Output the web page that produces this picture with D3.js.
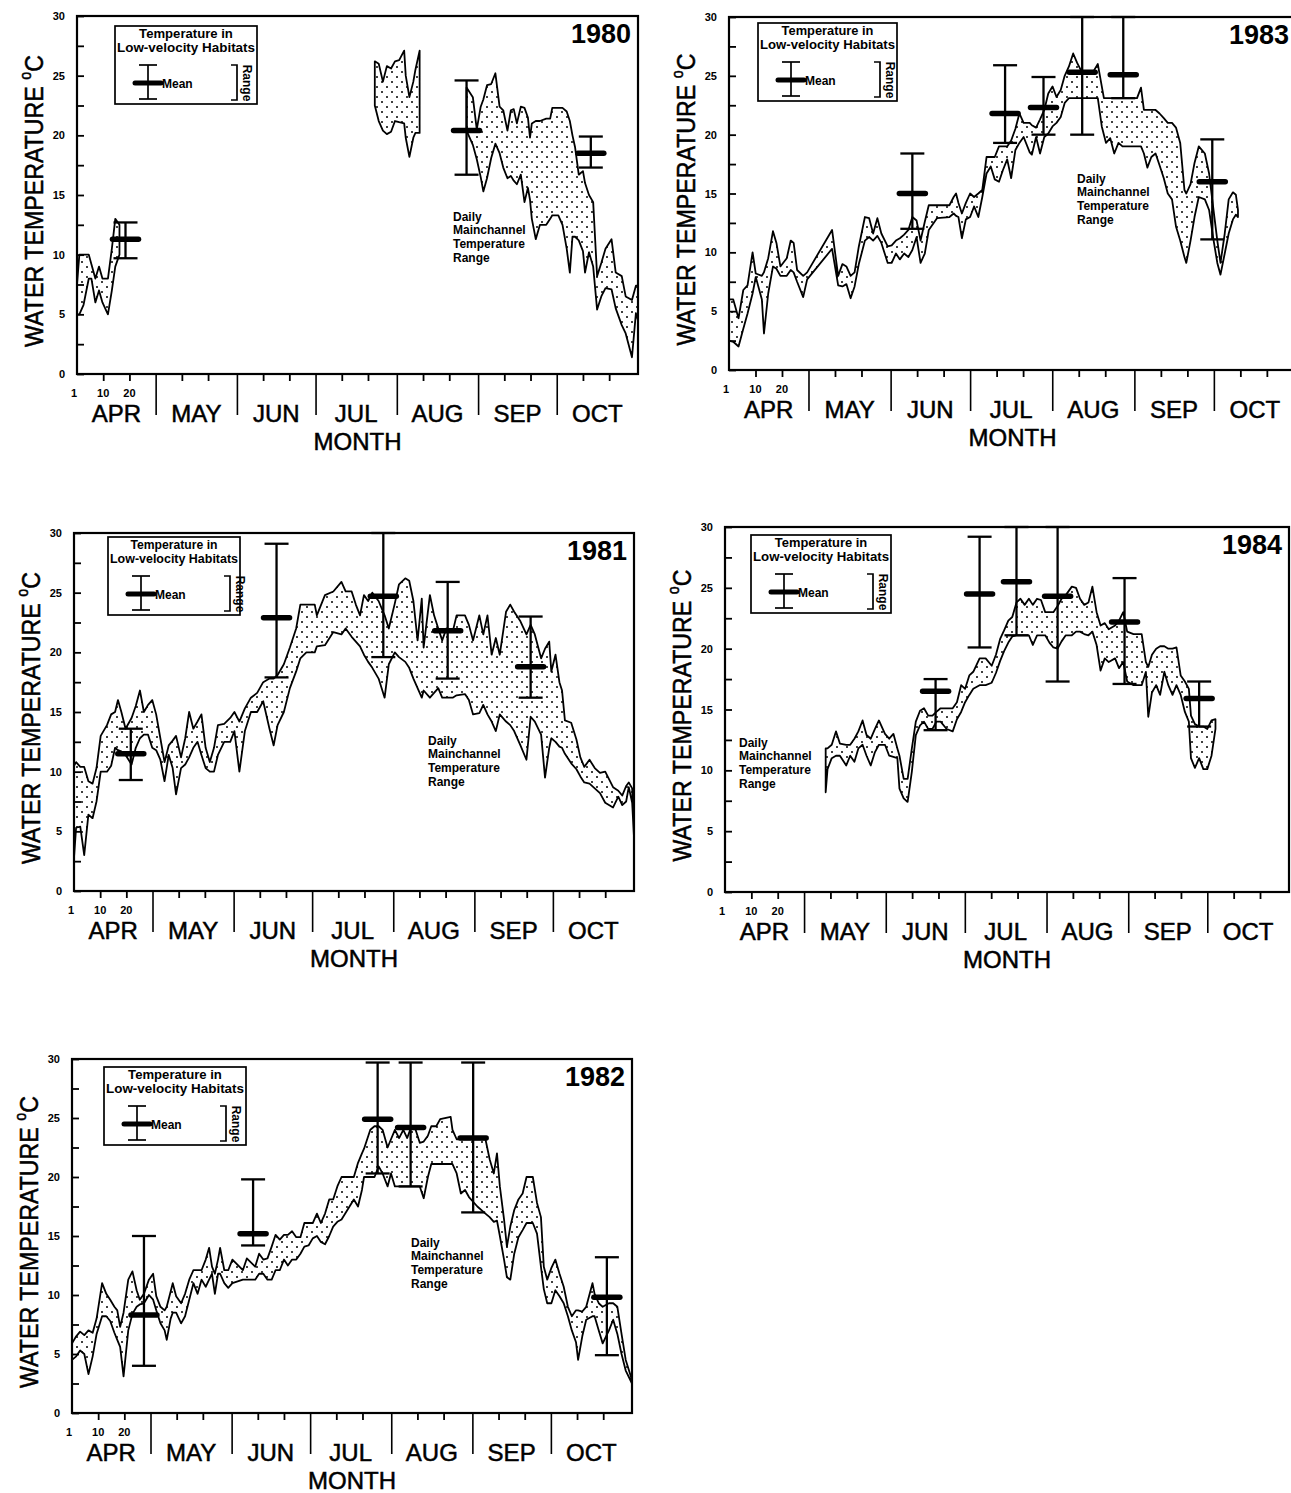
<!DOCTYPE html>
<html>
<head>
<meta charset="utf-8">
<script src="https://cdn.jsdelivr.net/npm/d3@7"></script>
<style>
  body { margin: 0; background: #fff; }
  svg { display: block; }
</style>
</head>
<body>
<svg id="chart" width="1291" height="1493"></svg>
<script>
// ---- Season axis: day index counted from April 1 ----
const monthNames = ["APR", "MAY", "JUN", "JUL", "AUG", "SEP", "OCT"];
const monthStarts = [0, 30, 61, 91, 122, 153, 183];
const seasonLength = 214;
const dayTickLabels = ["1", "10", "20"];
const tempTicks = [0, 5, 10, 15, 20, 25, 30];

// ---- Daily main-channel temperature range: [day, max, min], one list per continuous record ----
const range1980 = [
  [[0,7.5,5.0],[0.9,10.0,5.0],[2.5,10.0,5.8],[4.5,10.0,8.0],[5.5,9.2,8.0],[7.0,8.0,6.0],[8.4,9.0,7.0],[9.7,8.0,6.0],[11.8,8.0,5.0],[13.3,10.5,7.0],[14.6,13.0,9.0],[16.2,12.5,10.0]],
  [[113.6,26.2,22.5],[115.1,26.0,21.2],[116.7,24.5,20.4],[118.2,25.8,20.1],[119.8,25.6,20.3],[121.3,26.2,21.2],[122.9,26.3,21.1],[124.8,27.1,21.0],[125.4,25.0,19.8],[126.8,23.2,18.2],[128.3,24.5,19.8],[129.1,25.5,20.2],[130.7,27.1,20.2]],
  [[148.6,24.0,20.4],[151.0,23.2,19.2],[152.5,20.5,18.0],[154.0,22.4,16.5],[155.0,23.0,15.3],[156.4,24.2,16.4],[158.0,24.3,18.1],[159.6,25.2,19.3],[161.2,22.4,18.5],[162.6,22.1,17.3],[164.2,20.4,16.4],[165.5,22.1,16.6],[166.6,22.2,16.2],[167.8,21.0,15.9],[169.3,22.4,16.7],[170.7,22.3,14.4],[172.0,21.5,15.6],[172.8,19.8,14.6],[173.5,21.0,13.0],[175.0,21.2,11.3],[176.6,21.2,12.5],[179.0,21.4,12.5],[180.5,21.4,13.0],[181.3,22.3,13.3],[183.6,22.3,13.3],[185.2,22.3,12.5],[186.8,22.0,10.5],[188.0,21.2,8.5],[189.0,20.0,11.5],[190.0,19.0,11.5],[191.4,16.7,11.2],[193.0,17.0,10.3],[193.8,16.0,8.5],[195.3,15.0,10.2],[196.9,14.4,9.0],[198.4,8.2,5.4],[200.0,9.3,6.5],[201.6,10.5,7.2],[203.9,11.3,7.1],[205.5,8.5,5.5],[207.8,8.2,4.1],[209.3,6.5,3.4],[211.7,6.2,1.4],[213.2,7.4,5.1],[214,7.4,4.5]]
];
const range1983 = [
  [[0,6.0,2.5],[1.6,6.0,2.4],[3.6,4.4,2.0],[5.4,6.8,3.5],[7.0,7.2,4.8],[8.9,10.0,6.5],[10.1,8.2,7.9],[12.4,8.0,6.0],[13.2,8.3,3.1],[14.8,9.5,6.5],[16.6,11.8,8.8],[17.9,10.8,8.6],[19.4,8.8,8.0],[21.8,9.5,8.0],[23.3,11.0,8.5],[24.4,10.8,8.3],[25.7,8.5,7.5],[28.0,8.0,6.2],[29.5,8.3,7.7],[38.9,11.9,10.3],[41.2,8.0,7.2],[42.8,9.0,7.1],[44.3,8.8,7.3],[45.9,8.0,6.1],[47.4,8.3,7.1],[49.0,10.5,9.0],[51.3,13.0,11.0],[52.9,12.9,11.3],[54.4,11.6,11.0],[56.0,12.9,11.4],[57.5,11.6,10.8],[59.9,10.5,9.1],[61.4,10.6,9.1],[63.0,11.0,9.9],[64.5,11.2,9.4],[66.1,11.5,9.9],[67.7,11.9,9.6],[69.2,13.0,10.2],[70.8,12.7,11.3],[72.3,11.0,9.1],[73.9,12.6,9.9],[75.4,14.0,11.9],[78.5,14.0,12.9],[83.2,14.0,13.0],[84.8,14.7,13.3],[85.7,15.0,13.1],[86.6,14.2,13.0],[87.9,13.3,11.2],[89.4,14.2,12.8],[91.0,15.0,13.0],[92.5,14.7,13.9],[94.1,15.0,13.0],[95.6,15.3,14.7],[97.2,18.1,16.7],[98.8,18.1,17.3],[100.3,18.1,16.2],[101.9,19.0,16.0],[103.4,19.0,17.0],[105.0,19.0,17.9],[106.5,19.5,16.3],[108.1,20.5,18.7],[109.6,21.8,19.3],[111.2,21.0,19.8],[113.5,21.0,18.5],[114.3,20.8,18.3],[115.9,20.6,19.8],[117.4,21.3,18.4],[119.0,22.1,19.8],[120.5,23.5,20.1],[122.1,24.1,20.7],[123.6,23.2,21.0],[125.2,23.8,21.5],[126.7,25.0,22.7],[128.3,25.8,23.1],[129.9,26.9,23.1],[131.4,26.1,23.1],[133.0,25.4,23.1],[137.6,25.4,23.1],[139.2,26.0,23.1],[140.7,24.1,20.7],[141.5,23.1,20.0],[142.3,23.1,19.3],[143.9,23.1,19.7],[145.4,23.1,18.4],[147.0,23.1,19.3],[148.5,23.1,19.0],[154.0,23.1,19.0],[155.5,24.0,19.0],[156.6,22.1,18.4],[157.9,22.1,17.2],[159.4,22.1,18.1],[161.0,22.1,18.4],[162.5,21.8,17.4],[164.1,21.4,16.3],[165.6,21.0,15.0],[167.2,21.0,14.5],[168.7,20.6,12.2],[170.3,19.3,11.0],[171.9,15.3,9.6],[172.6,15.0,9.1],[174.2,15.8,11.0],[175.7,17.6,13.0],[177.3,19.0,14.7],[179.6,18.4,14.5],[181.2,16.7,13.6],[182.7,13.9,11.3],[184.3,11.0,9.1],[185.5,9.1,8.1],[187.1,11.6,9.9],[188.6,14.5,11.6],[190.2,15.1,12.8],[191.3,14.9,13.2],[192.1,13.6,13.0]]
];
const range1981 = [
  [[0,10.5,2.8],[0.8,10.8,5.3],[2.4,10.4,5.4],[3.9,10.4,3.0],[5.5,9.2,6.4],[7.1,9.0,6.1],[8.6,10.3,7.5],[10.2,13.0,10.0],[12.6,13.9,10.0],[14.2,14.8,10.5],[15.7,15.0,12.0],[16.8,16.0,11.8],[18.1,15.0,11.7],[19.7,13.6,11.4],[22.0,14.5,10.6],[23.6,15.5,12.0],[25.2,16.8,12.8],[26.7,15.0,13.1],[28.3,15.6,13.1],[29.9,16.0,12.0],[31.4,14.8,11.8],[33.0,12.8,11.0],[34.6,10.8,9.2],[36.2,12.2,11.4],[37.7,12.6,10.3],[39.0,13.0,8.1],[40.9,11.2,10.3],[42.5,12.8,10.6],[44.0,15.0,11.2],[45.6,13.6,12.0],[47.2,14.2,12.5],[48.7,14.8,11.4],[50.3,12.0,10.3],[51.9,10.8,10.0],[53.5,12.0,10.0],[55.0,13.9,11.4],[57.4,14.0,12.5],[59.7,14.5,12.5],[61.3,15.0,13.4],[63.2,14.2,10.0],[65.3,15.3,13.4],[67.6,16.2,15.0],[70.0,16.6,15.0],[72.3,17.5,15.9],[74.7,17.8,13.6],[76.3,17.8,12.2],[77.8,18.1,13.9],[80.2,19.0,15.0],[82.5,20.4,17.0],[84.9,22.0,18.4],[86.5,24.0,19.5],[88.8,24.0,20.0],[92.0,24.0,20.0],[92.8,23.1,20.5],[95.9,24.8,20.6],[99.1,25.1,21.7],[102.2,25.9,21.5],[103.8,25.1,22.0],[106.1,25.1,21.3],[107.7,24.0,20.9],[109.3,23.1,20.5],[110.8,24.8,19.8],[112.4,24.3,19.2],[114.0,25.0,18.7],[116.4,24.3,17.8],[118.7,23.1,16.2],[120.3,22.0,19.0],[122.6,24.1,20.0],[124.2,25.7,19.6],[126.6,26.2,19.2],[128.1,26.0,18.7],[129.7,24.3,17.8],[131.3,21.0,17.0],[132.9,24.5,16.2],[133.6,20.4,16.8],[136.0,24.8,16.2],[137.6,23.1,16.6],[139.2,22.0,17.0],[140.7,21.0,16.2],[142.3,22.0,16.2],[144.7,21.7,16.2],[146.2,23.1,16.4],[149.4,23.1,16.5],[150.9,22.3,16.0],[152.5,21.0,14.8],[154.9,23.1,14.9],[156.4,21.5,15.6],[158.0,23.1,14.8],[159.6,19.8,14.2],[161.2,21.2,13.4],[162.7,19.8,14.8],[165.1,23.4,14.2],[166.7,24.0,13.9],[168.2,23.4,13.4],[170.6,22.6,12.2],[172.9,21.5,11.0],[174.5,22.3,14.6],[176.1,21.5,14.2],[178.5,19.5,13.1],[180.0,20.3,9.5],[181.6,20.9,12.0],[182.4,18.4,12.8],[184.0,19.8,12.5],[185.5,17.5,12.1],[186.5,16.8,12.0],[187.6,14.3,11.5],[190.0,14.1,10.7],[192.0,12.7,10.2],[193.5,11.2,9.6],[195.0,10.4,9.1],[197.0,11.0,9.0],[199.0,10.3,8.6],[201.0,9.9,8.2],[203.0,10.0,7.4],[206.0,8.7,7.0],[208.0,8.4,7.9],[209.5,8.0,7.2],[211.0,8.8,7.5],[212.0,9.1,8.7],[213.3,8.6,7.4],[214,5.5,4.5]]
];
const range1984 = [
  [[38.2,11.8,8.2],[38.9,11.8,10.1],[40.5,12.1,11.0],[42.1,13.2,11.2],[43.6,12.2,11.2],[46.0,12.1,10.4],[47.5,12.1,11.2],[49.1,12.6,10.7],[50.6,13.2,11.8],[52.2,14.1,12.1],[53.7,12.9,11.2],[55.3,12.6,10.4],[56.9,13.4,11.5],[58.4,14.1,12.1],[60.7,13.0,12.1],[62.3,12.6,11.2],[63.9,13.0,11.1],[65.4,11.8,11.0],[66.2,11.2,8.5],[67.8,9.3,7.7],[69.3,9.3,7.4],[70.9,11.8,9.9],[72.4,14.0,12.9],[74.0,14.9,13.7],[75.5,15.1,14.0],[77.1,14.5,13.4],[78.7,14.5,13.4],[80.2,14.8,14.0],[81.8,15.1,14.0],[84.1,15.1,13.4],[86.4,15.1,13.2],[88.0,15.6,14.2],[89.6,17.0,14.8],[91.1,16.7,15.6],[92.7,17.8,16.2],[94.2,18.1,16.7],[96.6,19.2,17.0],[98.9,19.2,17.0],[101.2,18.6,17.2],[102.8,19.5,18.0],[104.4,20.8,19.0],[105.9,21.5,19.8],[107.5,22.3,20.5],[109.0,22.6,21.0],[110.6,23.8,21.1],[112.1,24.1,21.1],[113.7,23.6,21.1],[115.3,24.1,21.1],[116.8,23.6,20.3],[118.4,24.1,21.1],[119.9,24.0,21.1],[121.5,23.0,21.1],[123.1,23.0,20.5],[124.6,23.0,20.1],[126.2,23.5,20.0],[127.7,24.1,20.6],[129.3,24.4,21.1],[131.6,25.1,21.1],[133.2,25.0,21.4],[134.7,24.1,21.4],[136.3,23.6,21.2],[137.9,23.8,21.1],[139.4,25.1,21.4],[141.0,23.0,20.3],[142.5,21.9,18.2],[144.1,22.1,19.2],[145.6,21.6,18.9],[148.0,21.9,19.2],[149.5,22.3,18.4],[151.1,23.0,18.9],[152.6,21.4,17.3],[155.0,21.2,17.0],[158.1,21.2,17.0],[159.7,18.9,18.1],[160.6,18.5,14.4],[162.0,19.5,16.4],[163.6,20.0,17.0],[165.1,20.2,16.2],[166.7,20.2,18.1],[168.2,20.0,17.0],[169.8,20.0,16.2],[171.3,20.1,17.0],[172.9,17.8,16.2],[174.5,17.3,14.8],[176.0,16.7,14.0],[176.8,14.5,11.0],[178.3,13.8,10.2],[179.9,13.6,11.0],[181.5,13.6,10.1],[183.0,13.4,10.1],[184.6,14.1,11.2],[186.1,14.2,13.4]]
];
const range1982 = [
  [[0,5.9,4.5],[1.6,6.5,4.8],[3.1,6.9,5.3],[4.7,6.6,5.0],[6.3,7.0,3.3],[7.9,6.8,4.8],[9.4,8.0,6.7],[11.5,11.0,8.2],[13.1,10.1,8.2],[14.6,9.6,7.8],[16.2,9.0,6.8],[17.3,8.7,6.2],[18.4,7.3,5.6],[19.7,8.5,3.1],[21.5,11.3,7.0],[23.1,12.0,8.4],[24.7,10.4,9.0],[25.9,9.6,9.2],[27.5,10.1,9.3],[29.4,11.3,10.0],[31.0,11.8,9.6],[32.2,9.9,8.7],[33.8,9.0,7.6],[35.4,8.7,7.0],[36.2,9.0,6.2],[37.7,10.3,8.0],[38.5,11.0,8.5],[39.8,9.9,8.5],[41.7,9.3,7.6],[43.2,10.1,8.2],[44.8,11.3,9.6],[46.4,12.1,11.0],[48.0,12.1,10.1],[49.5,12.1,11.3],[51.1,13.0,10.7],[52.4,14.0,11.3],[53.5,12.4,11.8],[54.6,11.8,10.1],[55.8,13.0,11.8],[56.6,14.0,11.8],[58.2,12.1,11.0],[59.7,12.1,10.6],[61.3,13.0,11.0],[65.3,12.1,11.3],[66.8,13.1,11.3],[70.0,12.4,11.3],[71.5,13.5,11.8],[73.1,13.0,11.8],[74.7,13.1,11.3],[76.3,14.1,11.3],[77.8,15.1,12.1],[79.4,14.7,12.1],[81.0,15.1,13.0],[82.5,15.1,12.5],[84.1,15.4,13.0],[85.7,14.9,13.0],[87.3,14.9,13.5],[88.8,16.1,14.1],[90.4,16.1,14.2],[92.0,16.1,14.8],[93.6,16.9,15.0],[95.1,16.1,14.5],[96.7,16.9,14.3],[98.3,18.1,15.0],[99.8,18.1,15.8],[101.4,19.2,16.2],[103.0,20.0,16.4],[107.7,20.0,18.1],[109.3,21.2,17.5],[110.8,22.0,18.9],[111.6,22.4,20.0],[114.0,24.0,20.0],[115.6,24.3,20.0],[117.2,24.3,20.9],[118.7,24.0,20.3],[120.6,22.5,19.2],[121.9,23.2,20.3],[123.4,24.0,19.2],[125.0,23.3,19.2],[126.6,24.0,19.2],[128.1,23.3,19.2],[129.7,24.3,19.2],[131.3,24.0,19.2],[132.9,22.9,19.2],[134.4,23.0,18.2],[136.0,23.5,20.0],[137.3,24.3,21.1],[139.2,24.3,21.1],[140.7,24.9,21.1],[144.7,25.1,21.1],[145.4,24.0,21.1],[147.0,23.2,20.3],[148.6,23.2,18.6],[150.2,23.2,18.9],[151.7,23.2,18.3],[154.9,23.2,17.5],[158.0,23.2,16.9],[159.6,21.5,16.6],[161.2,20.3,16.2],[162.4,22.0,16.3],[163.5,19.2,15.0],[165.1,16.4,13.0],[166.2,14.1,11.5],[167.5,15.8,11.3],[169.0,17.2,13.5],[170.6,18.1,14.9],[172.2,18.6,15.5],[173.7,20.0,16.1],[176.1,20.0,16.1],[177.7,17.8,15.2],[179.2,16.6,12.4],[180.3,12.4,10.5],[181.6,11.3,9.3],[183.2,12.3,9.3],[184.7,13.0,10.4],[186.3,11.8,9.9],[187.9,10.7,9.3],[189.5,9.0,8.2],[191.0,8.2,7.0],[192.6,8.7,6.0],[193.4,8.7,4.5],[195.0,8.6,6.5],[196.5,9.0,7.9],[198.9,11.0,8.2],[199.7,10.1,8.2],[201.3,9.3,7.0],[202.8,9.0,5.9],[205.2,9.3,7.0],[206.8,9.3,7.9],[208.4,9.0,6.7],[210.0,6.7,5.0],[211.6,4.5,3.6],[214,2.8,2.5]]
];

// ---- Low-velocity habitat samples: [day, mean, low, high] ----
const habitat1980 = [[18.5,11.3,9.7,12.7],[148.6,20.4,16.7,24.6],[196.0,18.5,17.3,19.9]];
const habitat1983 = [[69.2,15.0,12.0,18.4],[104.2,21.8,19.3,25.9],[118.7,22.3,20.0,24.9],[133.3,25.3,20.0,30.0],[148.8,25.1,23.1,30.0],[182.4,16.0,11.1,19.6]];
const habitat1981 = [[21.7,11.5,9.3,13.6],[77.4,22.9,17.9,29.1],[118.2,24.7,19.6,30.0],[142.8,21.8,17.8,25.9],[174.5,18.8,16.2,23.0]];
const habitat1984 = [[79.9,16.5,13.3,17.5],[96.6,24.5,20.1,29.2],[110.6,25.5,21.1,30.0],[126.2,24.3,17.3,30.0],[151.6,22.2,17.1,25.8],[179.9,15.9,13.6,17.3]];
const habitat1982 = [[27.5,8.3,4.0,15.0],[69.2,15.2,14.2,19.8],[116.8,24.9,20.3,29.7],[129.4,24.2,19.2,29.7],[153.3,23.3,17.0,29.7],[204.4,9.8,4.9,13.2]];

// ---- Panel placement on the page ----
const panels = [
  { year: "1980", range: range1980, habitat: habitat1980, frame: { l: 77, r: 638, t: 16, b: 374 },   legend: { x: 115, y: 26, w: 142 },   note: { x: 453, y: 216 } },
  { year: "1983", range: range1983, habitat: habitat1983, frame: { l: 729, r: 1296, t: 17, b: 370 }, legend: { x: 758, y: 23, w: 139 },   note: { x: 1077, y: 178 } },
  { year: "1981", range: range1981, habitat: habitat1981, frame: { l: 74, r: 634, t: 533, b: 891 },  legend: { x: 108, y: 537, w: 132 },  note: { x: 428, y: 740 } },
  { year: "1984", range: range1984, habitat: habitat1984, frame: { l: 725, r: 1289, t: 527, b: 892 }, legend: { x: 751, y: 535, w: 140 }, note: { x: 739, y: 742 } },
  { year: "1982", range: range1982, habitat: habitat1982, frame: { l: 72, r: 632, t: 1059, b: 1413 }, legend: { x: 104, y: 1067, w: 142 }, note: { x: 411, y: 1242 } }
];

const FONT = "'Liberation Sans', Arial, Helvetica, sans-serif";
const svg = d3.select("#chart");

// stipple used for the daily range band
const defs = svg.append("defs");
const dots = defs.append("pattern").attr("id", "dots")
  .attr("patternUnits", "userSpaceOnUse").attr("width", 10).attr("height", 10);
dots.append("rect").attr("width", 10).attr("height", 10).attr("fill", "#fff");
dots.append("circle").attr("cx", 2).attr("cy", 2).attr("r", 1).attr("fill", "#000");
dots.append("circle").attr("cx", 7).attr("cy", 7).attr("r", 1).attr("fill", "#000");

function addText(g, x, y, str, size, opts = {}) {
  const t = g.append("text")
    .attr("x", x).attr("y", y)
    .attr("font-family", FONT)
    .attr("font-size", size)
    .attr("font-weight", opts.bold ? "bold" : "normal")
    .attr("text-anchor", opts.anchor || "start")
    .attr("fill", "#000")
    .text(str);
  if (opts.heavy) t.attr("stroke", "#000").attr("stroke-width", opts.heavy);
  if (opts.len) t.attr("textLength", opts.len).attr("lengthAdjust", "spacingAndGlyphs");
  if (opts.transform) t.attr("transform", opts.transform);
  return t;
}

function drawLegend(g, lg) {
  const { x: lx, y: ly, w } = lg;
  const h = 78;
  g.append("rect").attr("x", lx).attr("y", ly).attr("width", w).attr("height", h)
    .attr("fill", "#fff").attr("stroke", "#000").attr("stroke-width", 1.7);
  addText(g, lx + w / 2, ly + 12, "Temperature in", 12, { bold: true, anchor: "middle", len: w * 0.66 });
  addText(g, lx + w / 2, ly + 26, "Low-velocity Habitats", 12, { bold: true, anchor: "middle", len: w - 4 });
  const gx = lx + 33, top = ly + 39, bot = ly + 73, mid = ly + 57;
  g.append("line").attr("x1", gx).attr("x2", gx).attr("y1", top).attr("y2", bot).attr("stroke", "#000").attr("stroke-width", 1.7);
  [top, bot].forEach(v => g.append("line").attr("x1", gx - 9).attr("x2", gx + 9).attr("y1", v).attr("y2", v).attr("stroke", "#000").attr("stroke-width", 1.7));
  g.append("line").attr("x1", gx - 13).attr("x2", gx + 13).attr("y1", mid).attr("y2", mid)
    .attr("stroke", "#000").attr("stroke-width", 5).attr("stroke-linecap", "round");
  addText(g, lx + 47, mid + 4.5, "Mean", 12, { bold: true });
  const bx = lx + 116;
  g.append("path").attr("d", `M${bx},${top} H${bx + 6} V${bot + 1} H${bx}`)
    .attr("fill", "none").attr("stroke", "#000").attr("stroke-width", 1.7);
  addText(g, bx + 12, mid, "Range", 12, { bold: true, anchor: "middle", transform: `rotate(90,${bx + 12},${mid})` });
}

function drawPanel(p) {
  const { l, r, t, b } = p.frame;
  const x = d3.scaleLinear().domain([0, seasonLength]).range([l, r]);
  const y = d3.scaleLinear().domain([0, 30]).range([b, t]);
  const g = svg.append("g");

  // daily range bands
  const band = d3.area().x(d => x(d[0])).y0(d => y(d[2])).y1(d => y(d[1]));
  p.range.forEach(seg => {
    g.append("path").attr("d", band(seg))
      .attr("fill", "url(#dots)").attr("stroke", "#000")
      .attr("stroke-width", 1.8).attr("stroke-linejoin", "round");
  });

  // habitat samples: range whisker with a heavy mean bar
  p.habitat.forEach(([d, mean, lo, hi]) => {
    const cx = x(d);
    g.append("line").attr("x1", cx).attr("x2", cx).attr("y1", y(lo)).attr("y2", y(hi))
      .attr("stroke", "#000").attr("stroke-width", 2.3);
    [lo, hi].forEach(v => g.append("line").attr("x1", cx - 12).attr("x2", cx + 12)
      .attr("y1", y(v)).attr("y2", y(v)).attr("stroke", "#000").attr("stroke-width", 2.3));
    g.append("line").attr("x1", cx - 13).attr("x2", cx + 13).attr("y1", y(mean)).attr("y2", y(mean))
      .attr("stroke", "#000").attr("stroke-width", 5.5).attr("stroke-linecap", "round");
  });

  // plot frame
  g.append("rect").attr("x", l).attr("y", t).attr("width", r - l).attr("height", b - t)
    .attr("fill", "none").attr("stroke", "#000").attr("stroke-width", 2.2);

  // temperature axis
  const yAxis = d3.axisLeft(y).tickValues(d3.range(0, 30.01, 2.5)).tickSize(-7).tickPadding(12)
    .tickFormat(v => tempTicks.includes(v) ? String(v) : "");
  const ya = g.append("g").attr("transform", `translate(${l},0)`).call(yAxis);
  ya.select(".domain").remove();
  ya.selectAll("line").attr("stroke", "#000").attr("stroke-width", 1.8);
  ya.selectAll("text").attr("font-family", FONT).attr("font-weight", "bold").attr("font-size", 11).attr("fill", "#000");

  // day ticks (10th and 20th of each month) and month separators
  const minor = [];
  monthStarts.forEach(s => minor.push(s + 10, s + 20));
  const xa = g.append("g").attr("transform", `translate(0,${b})`)
    .call(d3.axisBottom(x).tickValues(minor).tickSize(7).tickFormat(""));
  xa.select(".domain").remove();
  xa.selectAll("line").attr("stroke", "#000").attr("stroke-width", 1.8);
  const xs = g.append("g").attr("transform", `translate(0,${b})`)
    .call(d3.axisBottom(x).tickValues(monthStarts.slice(1)).tickSize(41).tickFormat(""));
  xs.select(".domain").remove();
  xs.selectAll("line").attr("stroke", "#000").attr("stroke-width", 1.6);

  // April day-of-month labels
  const dayPos = [x(0) - 3, x(10), x(20)];
  dayTickLabels.forEach((s, i) => addText(g, dayPos[i], b + 23, s, 11, { bold: true, anchor: "middle" }));

  // month names
  monthNames.forEach((m, i) => {
    const end = i + 1 < monthStarts.length ? monthStarts[i + 1] : seasonLength;
    addText(g, x((monthStarts[i] + end) / 2), b + 48, m, 24, { anchor: "middle", heavy: 0.5 });
  });
  addText(g, (l + r) / 2, b + 76, "MONTH", 24, { anchor: "middle", heavy: 0.5 });

  // vertical axis title
  const tx = l - 34, ty = (t + b) / 2 + 6;
  const title = g.append("text")
    .attr("transform", `translate(${tx},${ty}) rotate(-90)`)
    .attr("font-family", FONT).attr("font-size", 26).attr("text-anchor", "middle")
    .attr("stroke", "#000").attr("stroke-width", 0.5)
    .attr("textLength", 292).attr("lengthAdjust", "spacingAndGlyphs");
  title.append("tspan").text("WATER TEMPERATURE ");
  title.append("tspan").attr("font-size", 16).attr("dy", -12).text("o");
  title.append("tspan").attr("dy", 12).text("C");

  // year
  addText(g, r - 7, t + 27, p.year, 27, { bold: true, anchor: "end" });

  // band annotation
  ["Daily", "Mainchannel", "Temperature", "Range"].forEach((s, i) =>
    addText(g, p.note.x, p.note.y + 4.5 + i * 13.8, s, 12, { bold: true }));

  drawLegend(g, p.legend);
}

panels.forEach(drawPanel);
</script>
</body>
</html>
